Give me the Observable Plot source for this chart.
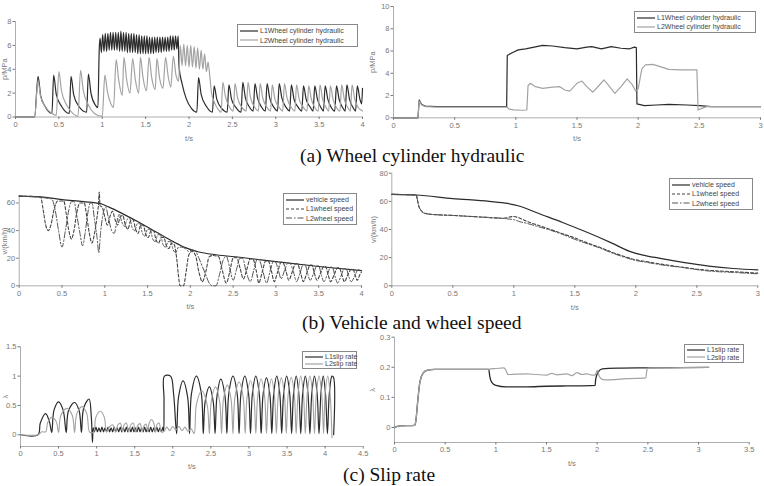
<!DOCTYPE html>
<html><head><meta charset="utf-8">
<script src="https://cdn.jsdelivr.net/npm/d3@7"></script>
<script src="https://cdn.jsdelivr.net/npm/@observablehq/plot@0.6"></script>
<style>
body{margin:0;background:#fff;}
#root{position:relative;width:764px;height:486px;overflow:hidden;background:#fff;font-family:"Liberation Sans",Arial,sans-serif;}
.panel{position:absolute;}
.panel svg{overflow:visible;}
.cap{position:absolute;font-family:"Liberation Serif","Times New Roman",serif;font-size:19.5px;line-height:19.5px;color:#111;white-space:nowrap;}
.leg{position:absolute;border:1px solid #888;background:#fff;font-size:7px;color:#444;box-sizing:border-box;padding:1px 2px;}
.leg .row{display:flex;align-items:center;white-space:nowrap;}
.leg svg{margin-right:2px;flex:none;}
</style></head><body><div id="root"></div>
<script>
// ---------- tick labels ----------
const aLxTicks = [0,0.5,1,1.5,2,2.5,3,3.5,4];
const aLyTicks = [0,2,4,6,8];
const aRxTicks = [0,0.5,1,1.5,2,2.5,3];
const aRyTicks = [0,2,4,6,8,10];
const bLxTicks = [0,0.5,1,1.5,2,2.5,3,3.5,4];
const bLyTicks = [0,20,40,60];
const bRxTicks = [0,0.5,1,1.5,2,2.5,3];
const bRyTicks = [0,20,40,60,80];
const cLxTicks = [0,0.5,1,1.5,2,2.5,3,3.5,4,4.5];
const cLyTicks = [0,0.5,1,1.5];
const cRxTicks = [0,0.5,1,1.5,2,2.5,3,3.5];
const cRyTicks = [0,0.1,0.2,0.3];

const captions = ["(a) Wheel cylinder hydraulic","(b) Vehicle and wheel speed","(c) Slip rate"];
const pressureNames = ["L1Wheel cylinder hydraulic","L2Wheel cylinder hydraulic"];
const speedNames = ["vehicle speed","L1wheel speed","L2wheel speed"];
const slipNames = ["L1slip rate","L2slip rate"];

// ---------- (a) left: wheel cylinder pressure [t(s), p(MPa)] ----------
const aL_L1 = [[0,0],[0.22,0],[0.26,3.4],[0.29,1.8],[0.34,0.9],[0.42,0.3],
[0.44,3.5],[0.47,1.9],[0.53,0.9],[0.62,0.3],
[0.64,3.4],[0.67,1.9],[0.73,0.9],[0.82,0.4],
[0.84,3.6],[0.87,2.0],[0.92,1.0],[0.95,0.8],
[0.965,5.6],[0.975,6.6],[0.99,5.4],[1.005,6.9],[1.02,5.5],[1.035,7.0],[1.05,5.5],[1.065,7.0],[1.08,5.6],[1.095,7.1],[1.11,5.6],[1.125,7.1],[1.14,5.6],[1.155,7.1],[1.17,5.6],[1.185,7.1],[1.2,5.5],[1.215,7.2],[1.23,5.5],[1.245,7.1],[1.26,5.5],[1.275,7.1],[1.29,5.4],[1.305,7.0],[1.32,5.4],[1.335,7.0],[1.35,5.4],[1.365,7.0],[1.38,5.4],[1.395,6.9],[1.41,5.3],[1.425,6.9],[1.44,5.3],[1.455,6.8],[1.47,5.3],[1.485,6.8],[1.5,5.3],[1.515,6.8],[1.53,5.3],[1.545,6.7],[1.56,5.3],[1.575,6.7],[1.59,5.3],[1.605,6.7],[1.62,5.4],[1.635,6.7],[1.65,5.4],[1.665,6.7],[1.68,5.4],[1.695,6.7],[1.71,5.5],[1.725,6.7],[1.74,5.5],[1.755,6.7],[1.77,5.5],[1.785,6.8],[1.8,5.6],[1.815,6.8],[1.83,5.6],[1.845,6.8],[1.86,5.7],[1.875,6.8],
[1.885,4.2],[1.92,2.8],[1.97,1.5],[2.03,0.7],[2.09,0.4],
[2.11,3.3],[2.14,1.9],[2.2,0.9],[2.27,0.4],
[2.29,2.6],[2.32,1.5],[2.38,0.7],[2.44,0.4],
[2.46,2.7],[2.49,1.5],[2.54,0.8],[2.60,0.4],
[2.62,2.9],[2.65,1.6],[2.70,0.8],[2.74,0.5],
[2.76,2.8],[2.79,1.6],[2.84,0.8],[2.88,0.5],
[2.90,2.8],[2.93,1.6],[2.98,0.8],[3.02,0.5],
[3.04,2.8],[3.07,1.6],[3.12,0.8],[3.16,0.5],
[3.18,2.7],[3.21,1.5],[3.26,0.8],[3.30,0.5],
[3.32,2.6],[3.35,1.5],[3.40,0.8],[3.43,0.5],
[3.45,2.6],[3.48,1.5],[3.52,0.8],[3.55,0.5],
[3.57,2.6],[3.60,1.5],[3.64,0.8],[3.68,0.5],
[3.70,2.6],[3.73,1.5],[3.77,0.8],[3.80,0.5],
[3.82,2.7],[3.85,1.5],[3.89,0.8],[3.92,0.5],
[3.94,2.6],[3.97,1.5],[3.99,1.1],[4.0,2.4]];
const aL_L2 = [[0,0],[0.22,0],[0.26,3.0],[0.29,1.7],[0.35,0.8],[0.42,0.3],[0.47,0.15],
[0.50,3.8],[0.53,2.2],[0.59,1.0],[0.66,0.3],[0.72,0.05],
[0.75,3.9],[0.78,2.3],[0.84,1.0],[0.91,0.3],[1.0,0.05],
[1.03,3.5],[1.06,2.1],[1.10,1.1],[1.13,0.8],
[1.16,4.8],[1.19,3.1],[1.23,1.8],
[1.25,5.0],[1.28,3.2],[1.32,2.0],
[1.35,4.9],[1.38,3.2],[1.42,2.0],
[1.44,5.0],[1.47,3.3],[1.51,2.2],
[1.54,5.0],[1.57,3.3],[1.61,2.3],
[1.63,4.9],[1.66,3.3],[1.70,2.4],
[1.73,5.0],[1.76,3.4],[1.79,2.5],
[1.82,5.1],[1.85,3.5],[1.88,3.0],
[1.90,6.0],[1.92,4.3],[1.94,6.1],[1.96,4.3],[1.98,6.0],[2.00,4.2],[2.02,6.0],[2.04,4.2],[2.06,5.9],[2.08,4.1],[2.10,5.8],[2.12,4.0],[2.14,5.6],[2.16,4.0],[2.18,5.3],[2.20,3.8],[2.22,4.6],[2.24,3.4],
[2.26,2.0],[2.30,1.1],[2.34,0.6],[2.37,0.4],
[2.39,2.9],[2.42,1.7],[2.47,0.8],[2.51,0.5],
[2.53,2.8],[2.56,1.6],[2.61,0.8],[2.66,0.5],
[2.68,2.9],[2.71,1.6],[2.76,0.8],[2.80,0.5],
[2.82,2.8],[2.85,1.6],[2.90,0.8],[2.94,0.5],
[2.96,2.7],[2.99,1.5],[3.04,0.8],[3.08,0.5],
[3.10,2.8],[3.13,1.6],[3.18,0.8],[3.22,0.5],
[3.24,2.7],[3.27,1.5],[3.32,0.8],[3.36,0.5],
[3.38,2.6],[3.41,1.5],[3.45,0.8],[3.49,0.5],
[3.51,2.7],[3.54,1.5],[3.58,0.8],[3.61,0.5],
[3.63,2.6],[3.66,1.5],[3.70,0.8],[3.74,0.5],
[3.76,2.7],[3.79,1.5],[3.83,0.8],[3.86,0.5],
[3.88,2.7],[3.91,1.5],[3.95,0.8],[3.98,0.6],[4.0,0.5]];

// ---------- (a) right ----------
const aR_L1 = [[0,0],[0.2,0],[0.21,1.6],[0.23,1.2],[0.26,1.05],[0.35,1.0],[0.925,1.0],[0.93,5.6],[0.97,5.85],[1.02,6.1],[1.08,6.2],[1.15,6.35],[1.22,6.5],[1.3,6.45],[1.4,6.3],[1.5,6.2],[1.58,6.35],[1.62,6.4],[1.7,6.2],[1.78,6.4],[1.86,6.25],[1.93,6.2],[1.97,6.35],[1.985,6.3],[1.99,1.25],[2.05,1.1],[2.15,1.15],[2.25,1.2],[2.4,1.15],[2.5,1.1],[2.6,1.0],[3.0,1.0]];
const aR_L2 = [[0,0],[0.2,0],[0.21,1.5],[0.23,1.15],[0.26,1.0],[0.35,0.97],[0.93,0.97],[0.94,0.8],[0.98,0.72],[1.05,0.68],[1.09,0.7],[1.10,2.9],[1.12,3.1],[1.16,2.8],[1.22,2.65],[1.3,2.75],[1.36,2.8],[1.40,2.5],[1.44,2.4],[1.50,3.1],[1.54,3.3],[1.58,2.8],[1.63,2.3],[1.68,2.9],[1.72,3.4],[1.76,2.9],[1.81,2.2],[1.86,2.8],[1.91,3.5],[1.95,3.0],[1.98,2.4],[2.0,2.6],[2.03,4.4],[2.06,4.75],[2.12,4.8],[2.18,4.6],[2.25,4.35],[2.35,4.3],[2.48,4.3],[2.49,0.7],[2.52,0.85],[2.56,1.0],[2.7,1.0],[3.0,1.0]];

// ---------- (b) left: speeds [t(s), v(km/h)] ----------
const bL_veh = [[0,65],[0.25,64.5],[0.5,62.5],[0.75,61],[0.95,59.5],[1.05,57],[1.2,52.5],[1.4,46],[1.6,39],[1.8,32],[1.95,27.5],[2.1,24.5],[2.3,22.5],[2.6,20.5],[3.0,17.5],[3.5,14],[4.0,11]];
const bL_L1 = [[0,65],[0.25,64.5],[0.28,55],[0.31,44],[0.34,40],[0.37,44],[0.41,56],[0.45,61.5],
[0.52,61.5],[0.55,52],[0.58,40],[0.61,34],[0.64,40],[0.67,52],[0.71,60],
[0.76,60],[0.79,50],[0.82,38],[0.85,31],[0.88,38],[0.91,50],[0.925,58],[0.935,68],[0.945,58],[0.97,57],
[1.00,50],[1.03,44],[1.06,50],[1.09,54],[1.12,48],[1.15,44],[1.18,50],[1.21,51],[1.24,44],[1.27,41],[1.30,47],[1.33,48],[1.36,41],[1.39,38],[1.42,44],[1.45,44],[1.48,37],[1.51,35],[1.54,40],[1.57,40],[1.60,33],[1.63,31],[1.66,35],[1.69,35],[1.72,29],[1.75,27],[1.78,31],[1.81,30],[1.84,20],[1.86,8],[1.88,0],[1.92,0],[1.95,10],[1.98,22],[2.02,25],
[2.06,22],[2.10,10],[2.14,3],[2.18,10],[2.22,21],[2.26,22],
[2.33,21],[2.37,12],[2.42,2],[2.46,10],[2.50,20],[2.54,20.5],
[2.58,13],[2.62,5],[2.66,12],[2.70,19.5],[2.73,19.5],
[2.77,11],[2.80,2],[2.84,10],[2.88,18],[2.91,18],
[2.95,10],[2.98,3],[3.02,10],[3.06,17],[3.08,17],
[3.12,10],[3.15,4],[3.19,10],[3.23,16],[3.25,16],
[3.29,9],[3.32,3],[3.36,9],[3.40,15],[3.42,15],
[3.45,9],[3.48,4],[3.52,9],[3.56,14],[3.58,14],
[3.61,8],[3.64,3],[3.68,8],[3.72,13],[3.74,13],
[3.77,8],[3.80,3],[3.84,8],[3.88,12],[3.90,12],
[3.93,7],[3.95,4],[3.98,8],[4.0,10]];
const bL_L2 = [[0,65],[0.38,63],[0.42,55],[0.46,40],[0.50,28],[0.54,40],[0.58,55],[0.61,61],
[0.64,61],[0.67,52],[0.71,38],[0.74,29],[0.77,38],[0.80,52],[0.83,60],
[0.85,60],[0.88,48],[0.91,35],[0.93,24],[0.95,38],[0.98,52],[1.01,57],
[1.04,50],[1.08,40],[1.11,38],[1.14,46],[1.17,52],[1.20,46],[1.23,43],[1.26,48],[1.29,49],[1.32,42],[1.35,40],[1.38,45],[1.41,45],[1.44,38],[1.47,36],[1.50,41],[1.53,41],[1.56,34],[1.59,32],[1.62,37],[1.65,37],[1.68,30],[1.71,28],[1.74,32],[1.77,32],[1.80,26],[1.83,24],[1.86,28],[1.90,28],[1.94,27],[1.98,25],[2.02,26],[2.06,25],[2.10,20],[2.14,14],[2.18,8],[2.22,2],[2.26,0],[2.30,0],[2.34,8],[2.38,18],[2.42,21.5],
[2.46,13],[2.50,4],[2.54,12],[2.58,20],[2.61,20],
[2.65,11],[2.70,3],[2.74,11],[2.78,19],[2.80,19],
[2.85,10],[2.89,2],[2.93,10],[2.97,17.5],[2.99,17.5],
[3.03,11],[3.06,5],[3.10,11],[3.14,16.5],[3.16,16.5],
[3.21,9],[3.24,3],[3.28,9],[3.32,15.5],[3.34,15.5],
[3.37,9],[3.40,4],[3.44,9],[3.48,14.5],[3.50,14.5],
[3.53,8],[3.56,3],[3.60,8],[3.64,13.5],[3.66,13.5],
[3.69,7],[3.72,2],[3.76,7],[3.80,12.5],[3.82,12.5],
[3.85,7],[3.88,3],[3.92,7],[3.96,11.5],[4.0,11]];

// ---------- (b) right ----------
const bR_veh = [[0,65],[0.2,64.5],[0.5,62],[0.8,60],[0.95,58.5],[1.05,56.5],[1.2,51.5],[1.4,45],[1.6,38],[1.8,30.5],[1.95,24.5],[2.05,22],[2.2,19.5],[2.4,16.5],[2.6,14],[2.8,12.3],[3.0,11.3]];
const bR_L1 = [[0,65],[0.2,64.5],[0.21,61],[0.22,57],[0.24,53.5],[0.27,51.5],[0.32,50.8],[0.5,50],[0.7,49],[0.9,48],[0.95,48.5],[0.97,49],[1.0,49.2],[1.05,48],[1.1,46],[1.2,43],[1.3,40],[1.4,37],[1.5,34],[1.6,30.5],[1.7,27.5],[1.8,24],[1.9,21],[2.0,18.5],[2.1,17],[2.2,15.5],[2.4,13],[2.5,11.8],[2.6,11],[2.8,10],[3.0,9]];
const bR_L2 = [[0,65],[0.2,64.5],[0.21,61],[0.22,57],[0.24,53.5],[0.27,51.5],[0.32,50.8],[0.5,50],[0.7,49],[0.9,48],[0.95,47.5],[1.0,47],[1.05,45.5],[1.1,44.5],[1.2,42],[1.3,39.5],[1.4,36.5],[1.5,33],[1.6,30],[1.7,27],[1.8,23.5],[1.9,20.5],[2.0,18],[2.1,16.5],[2.2,15],[2.4,12.8],[2.5,11.5],[2.6,10.5],[2.8,9.5],[3.0,8.5]];

// ---------- (c) left: slip rate [t(s), λ] ----------
const cL_L1 = [[0,0],[0.23,0],[0.26,0.2],[0.33,0.36],[0.38,0.22],[0.41,0.04],
[0.44,0.42],[0.50,0.56],[0.56,0.42],[0.60,0.04],
[0.63,0.41],[0.71,0.55],[0.77,0.41],[0.80,0.04],
[0.83,0.46],[0.90,0.61],[0.93,0.3],[0.945,-0.13],[0.955,0.12],
[0.97,0.05],[0.99,0.13],[1.01,0.05],[1.03,0.12],[1.05,0.05],[1.07,0.13],[1.09,0.05],[1.11,0.12],[1.13,0.05],[1.15,0.13],[1.17,0.05],[1.19,0.12],[1.21,0.05],[1.23,0.13],[1.25,0.05],[1.27,0.12],[1.29,0.05],[1.31,0.13],[1.33,0.05],[1.35,0.12],[1.37,0.05],[1.39,0.13],[1.41,0.05],[1.43,0.12],[1.45,0.05],[1.47,0.13],[1.49,0.05],[1.51,0.12],[1.53,0.05],[1.55,0.13],[1.57,0.05],[1.59,0.12],[1.61,0.05],[1.63,0.13],[1.65,0.05],[1.67,0.12],[1.69,0.05],[1.71,0.13],[1.73,0.05],[1.75,0.12],[1.77,0.05],[1.79,0.13],[1.81,0.05],[1.83,0.12],[1.85,0.05],[1.87,0.13],[1.88,0.06],
[1.885,0.6],[1.89,1.0],[1.97,1.0],[2.01,0.7],[2.05,0.02],
[2.075,0.64],[2.135,0.92],[2.195,0.64],[2.22,0.02],
[2.245,0.7],[2.31,1.0],[2.375,0.7],[2.40,0.02],
[2.425,0.57],[2.48,0.82],[2.53,0.57],[2.555,0.02],
[2.58,0.66],[2.63,0.95],[2.685,0.66],[2.71,0.02],
[2.735,0.7],[2.79,1.0],[2.845,0.7],[2.87,0.02],
[2.895,0.7],[2.945,1.0],[2.995,0.7],[3.02,0.02],
[3.045,0.7],[3.09,1.0],[3.135,0.7],[3.16,0.02],
[3.185,0.68],[3.23,0.97],[3.275,0.68],[3.30,0.02],
[3.325,0.7],[3.365,1.0],[3.405,0.7],[3.43,0.02],
[3.455,0.7],[3.495,1.0],[3.535,0.7],[3.56,0.02],
[3.585,0.7],[3.62,1.0],[3.655,0.7],[3.68,0.02],
[3.705,0.7],[3.74,1.0],[3.775,0.7],[3.80,0.02],
[3.825,0.7],[3.86,1.0],[3.895,0.7],[3.92,0.02],
[3.945,0.7],[3.975,1.0],[4.005,0.7],[4.03,0.02],
[4.055,0.7],[4.09,1.0],[4.11,0.98],[4.112,0.0]];
const cL_L2 = [[0,0],[0.23,0],[0.28,0.05],[0.33,0.05],[0.36,0.22],[0.42,0.3],[0.47,0.22],[0.50,0.04],
[0.53,0.33],[0.61,0.45],[0.68,0.33],[0.71,0.04],
[0.74,0.36],[0.81,0.48],[0.87,0.36],[0.91,0.04],[0.96,0.05],
[0.99,0.3],[1.05,0.4],[1.10,0.3],[1.13,0.05],
[1.17,0.14],[1.21,0.17],[1.25,0.05],[1.28,0.17],[1.31,0.2],[1.34,0.05],[1.36,0.17],[1.39,0.2],[1.42,0.05],[1.45,0.17],[1.48,0.2],[1.51,0.05],[1.54,0.16],[1.57,0.19],[1.60,0.05],[1.62,0.15],[1.65,0.18],[1.67,0.05],[1.69,0.2],[1.72,0.26],[1.75,0.2],[1.77,0.05],[1.79,0.17],[1.82,0.2],[1.85,0.05],[1.88,0.05],
[1.92,0.13],[1.96,0.07],[2.00,0.14],[2.04,0.08],[2.08,0.14],[2.12,0.07],[2.16,0.13],[2.20,0.06],[2.24,0.1],[2.28,0.02],
[2.31,0.52],[2.38,0.75],[2.45,0.52],[2.48,0.02],
[2.505,0.57],[2.56,0.82],[2.615,0.57],[2.64,0.02],
[2.665,0.6],[2.715,0.85],[2.765,0.6],[2.79,0.02],
[2.815,0.63],[2.87,0.9],[2.925,0.63],[2.95,0.02],
[2.975,0.64],[3.02,0.92],[3.065,0.64],[3.09,0.02],
[3.115,0.66],[3.16,0.95],[3.205,0.66],[3.23,0.02],
[3.255,0.66],[3.295,0.95],[3.335,0.66],[3.36,0.02],
[3.385,0.68],[3.425,0.97],[3.465,0.68],[3.49,0.02],
[3.515,0.69],[3.555,0.98],[3.595,0.69],[3.62,0.02],
[3.645,0.7],[3.68,1.0],[3.715,0.7],[3.74,0.02],
[3.765,0.7],[3.80,1.0],[3.835,0.7],[3.86,0.02],
[3.885,0.7],[3.92,1.0],[3.955,0.7],[3.98,0.02],
[4.00,0.7],[4.035,1.0],[4.065,0.7],[4.09,-0.05]];

// ---------- (c) right ----------
const cR_L1 = [[0,0],[0.05,0.005],[0.2,0.007],[0.21,0.02],[0.23,0.09],[0.25,0.15],[0.28,0.18],[0.32,0.19],[0.4,0.193],[0.93,0.193],[0.94,0.17],[0.96,0.15],[1.0,0.14],[1.1,0.135],[1.3,0.135],[1.5,0.137],[1.7,0.138],[1.98,0.14],[1.985,0.16],[2.01,0.185],[2.05,0.195],[2.2,0.197],[2.5,0.198],[3.1,0.2]];
const cR_L2 = [[0,0],[0.05,0.005],[0.2,0.007],[0.21,0.02],[0.23,0.09],[0.25,0.15],[0.28,0.18],[0.32,0.19],[0.4,0.193],[0.93,0.193],[0.95,0.195],[1.0,0.196],[1.08,0.198],[1.1,0.19],[1.12,0.176],[1.2,0.177],[1.3,0.178],[1.4,0.176],[1.5,0.174],[1.55,0.18],[1.6,0.175],[1.7,0.178],[1.75,0.172],[1.8,0.182],[1.85,0.176],[1.9,0.178],[1.95,0.174],[1.98,0.175],[2.0,0.19],[2.02,0.17],[2.05,0.16],[2.1,0.158],[2.2,0.16],[2.3,0.162],[2.48,0.165],[2.49,0.19],[2.5,0.197],[2.6,0.198],[3.1,0.2]];

// ---------- drawing ----------
const DARK = "#2b2b2b", LIGHT = "#a3a3a3", AXC = "#777";
const root = document.getElementById("root");
const fmt = d => String(+(+d).toFixed(2));

function addPanel(p) {
  const marks = [
    Plot.ruleX([p.x[0]], {stroke: "#999", strokeWidth: 0.8}),
    Plot.ruleY([p.y[0]], {stroke: "#999", strokeWidth: 0.8}),
    Plot.axisX({ticks: p.xt, tickFormat: fmt, tickSize: 2.5, tickPadding: 2, fontSize: 7.5, color: AXC,
      label: "t/s", labelAnchor: "center", labelOffset: p.xlo, labelArrow: "none"}),
    Plot.axisY({ticks: p.yt, tickFormat: fmt, tickSize: 2.5, tickPadding: 1.5, fontSize: 7.5, color: AXC,
      label: p.ylabel, labelAnchor: "center", labelOffset: p.ylo, labelArrow: "none"}),
    ...p.series.map(s => Plot.line(s.data, {x: d => d[0], y: d => d[1], stroke: s.color, strokeWidth: s.w || 1.1,
      strokeDasharray: s.dash || null, curve: p.curve || "monotone-x"}))
  ];
  const svg = Plot.plot({
    width: p.w, height: p.h,
    marginLeft: p.m[0], marginRight: p.m[1], marginTop: p.m[2], marginBottom: p.m[3],
    x: {domain: p.x}, y: {domain: p.y},
    style: {background: "transparent", fontFamily: "Liberation Sans, Arial, sans-serif", fontSize: "7.5px", overflow: "visible"},
    marks
  });
  const div = document.createElement("div");
  div.className = "panel";
  div.style.left = p.left + "px"; div.style.top = p.top + "px";
  div.appendChild(svg);
  root.appendChild(div);
}

function addLegend(x, y, w, h, entries) {
  const div = document.createElement("div");
  div.className = "leg";
  Object.assign(div.style, {left: x + "px", top: y + "px", width: w + "px", height: h + "px"});
  const rh = (h - 4) / entries.length;
  for (const e of entries) {
    const row = document.createElement("div");
    row.className = "row"; row.style.height = rh + "px";
    const ns = "http://www.w3.org/2000/svg";
    const s = document.createElementNS(ns, "svg");
    s.setAttribute("width", 18); s.setAttribute("height", 4);
    const l = document.createElementNS(ns, "line");
    l.setAttribute("x1", 0); l.setAttribute("x2", 18); l.setAttribute("y1", 2); l.setAttribute("y2", 2);
    l.setAttribute("stroke", e.color); l.setAttribute("stroke-width", 1.2);
    if (e.dash) l.setAttribute("stroke-dasharray", e.dash);
    s.appendChild(l); row.appendChild(s);
    const t = document.createElement("span"); t.textContent = e.label; row.appendChild(t);
    div.appendChild(row);
  }
  root.appendChild(div);
}

function addCaption(text, x, y) {
  const d = document.createElement("div");
  d.className = "cap"; d.textContent = text;
  d.style.left = x + "px"; d.style.top = y + "px";
  root.appendChild(d);
}

const DASH1 = "3,2", DASH2 = "6,2,1.5,2";

addPanel({left: 0, top: 0, w: 370, h: 145, m: [15, 8, 21, 28.5], x: [0, 4], y: [0, 8], xt: aLxTicks, yt: aLyTicks,
  ylabel: "p/MPa", xlo: 24, ylo: 14,
  series: [{data: aL_L1, color: DARK, w: 1.2}, {data: aL_L2, color: LIGHT, w: 1.2}]});
addPanel({left: 370, top: 0, w: 394, h: 145, m: [23, 4, 6, 27.7], x: [0, 3], y: [0, 10], xt: aRxTicks, yt: aRyTicks,
  ylabel: "p/MPa", xlo: 23, ylo: 24, curve: "linear",
  series: [{data: aR_L1, color: DARK, w: 1.2}, {data: aR_L2, color: LIGHT, w: 1.2}]});
addPanel({left: 0, top: 165, w: 370, h: 148, m: [18.7, 9, 30.6, 27.7], x: [0, 4], y: [0, 65], xt: bLxTicks, yt: bLyTicks,
  ylabel: "v/(km/h)", xlo: 23.5, ylo: 18,
  series: [{data: bL_veh, color: DARK, w: 1.2}, {data: bL_L1, color: "#444", w: 1.1, dash: DASH1}, {data: bL_L2, color: "#555", w: 1.0, dash: DASH2}]});
addPanel({left: 370, top: 165, w: 394, h: 148, m: [21.3, 6.7, 7.7, 27.7], x: [0, 3], y: [0, 80], xt: bRxTicks, yt: bRyTicks,
  ylabel: "v/(km/h)", xlo: 24, ylo: 21.5,
  series: [{data: bR_veh, color: DARK, w: 1.2}, {data: bR_L1, color: "#444", w: 1.1, dash: DASH1}, {data: bR_L2, color: "#555", w: 1.0, dash: DASH2}]});
addPanel({left: 0, top: 330, w: 370, h: 140, m: [20, 7.3, 16.3, 24], x: [0, 4.5], y: [-0.2, 1.5], xt: cLxTicks, yt: cLyTicks,
  ylabel: "λ", xlo: 22.5, ylo: 17.5, curve: "catmull-rom",
  series: [{data: cL_L1, color: DARK, w: 1.2}, {data: cL_L2, color: LIGHT, w: 1.1}]});
addPanel({left: 370, top: 330, w: 394, h: 140, m: [24, 15.3, 6.7, 28], x: [0, 3.5], y: [-0.05, 0.3], xt: cRxTicks, yt: cRyTicks,
  ylabel: "λ", xlo: 23, ylo: 24.5,
  series: [{data: cR_L1, color: DARK, w: 1.3}, {data: cR_L2, color: LIGHT, w: 1.2}]});

addLegend(237, 24, 121, 23, [{label: pressureNames[0], color: DARK}, {label: pressureNames[1], color: LIGHT}]);
addLegend(634, 11, 122, 22, [{label: pressureNames[0], color: DARK}, {label: pressureNames[1], color: LIGHT}]);
addLegend(283, 193, 74, 32, [{label: speedNames[0], color: DARK}, {label: speedNames[1], color: "#444", dash: DASH1}, {label: speedNames[2], color: "#555", dash: DASH2}]);
addLegend(669, 178, 84, 32, [{label: speedNames[0], color: DARK}, {label: speedNames[1], color: "#444", dash: DASH1}, {label: speedNames[2], color: "#555", dash: DASH2}]);
addLegend(302, 351, 55, 18, [{label: slipNames[0], color: DARK}, {label: slipNames[1], color: LIGHT}]);
addLegend(684, 344, 60, 19, [{label: slipNames[0], color: DARK}, {label: slipNames[1], color: LIGHT}]);

addCaption(captions[0], 300, 145.7);
addCaption(captions[1], 302, 313.3);
addCaption(captions[2], 343, 465);
</script></body></html>
